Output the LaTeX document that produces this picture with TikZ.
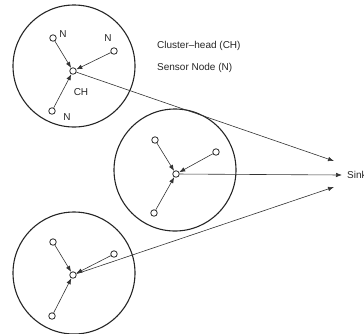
\documentclass[tikz,border=0pt]{standalone}
\usepackage{fontspec}
\setmainfont{Liberation Sans}
\usetikzlibrary{arrows.meta}
\begin{document}
\begin{tikzpicture}[x=1pt,y=-1pt,
  cluster/.style={draw=black!85,line width=1.1pt},
  sn/.style={circle,draw=black!85,line width=0.8pt,minimum size=6.5pt,inner sep=0pt},
  lab/.style={font=\fontsize{10}{12}\selectfont,text=black!85,inner sep=0pt},
  arr/.style={draw=black!80,line width=0.6pt,-{Latex[length=6pt,width=4.5pt]}}]
\useasboundingbox (0,0) rectangle (364,333);
% clusters
\draw[cluster] (74,66) circle (61);
\draw[cluster] (175,170) circle (61);
\draw[cluster] (74,273) circle (61);
% cluster 1
\node[sn] (ch1) at (73,71) {};
\node[sn] (a1) at (53,38) {};
\node[sn] (b1) at (114,51) {};
\node[sn] (c1) at (52,111) {};
% cluster 2
\node[sn] (ch2) at (176,174) {};
\node[sn] (a2) at (155,140) {};
\node[sn] (b2) at (216,152) {};
\node[sn] (c2) at (154,213) {};
% cluster 3
\node[sn] (ch3) at (73,275) {};
\node[sn] (a3) at (53,242) {};
\node[sn] (b3) at (114,254) {};
\node[sn] (c3) at (52,316) {};
% labels
\node[lab] (na) at (63,34) {N};
\node[lab] (nb) at (108,38) {N};
\node[lab] (nc) at (67,117) {N};
\node[lab] (lch) at (81,92) {CH};
\node[lab,anchor=west] (leg1) at (157,46) {Cluster–head (CH)};
\node[lab,anchor=west] (leg2) at (157,68) {Sensor Node (N)};
\node[lab,anchor=west] (sink) at (347,175) {Sink};
% sink end points
\coordinate (s1) at (334,161);
\coordinate (s2) at (342,175);
\coordinate (s3) at (334,187);
% arrows
\foreach \i in {1,2,3}{
  \draw[arr] (a\i) -- (ch\i);
  \draw[arr] (b\i) -- (ch\i);
  \draw[arr] (c\i) -- (ch\i);
}
\draw[arr] (ch1) -- (s1);
\draw[arr] (ch2) -- (s2);
\draw[arr] (ch3) -- (s3);
\end{tikzpicture}
\end{document}
